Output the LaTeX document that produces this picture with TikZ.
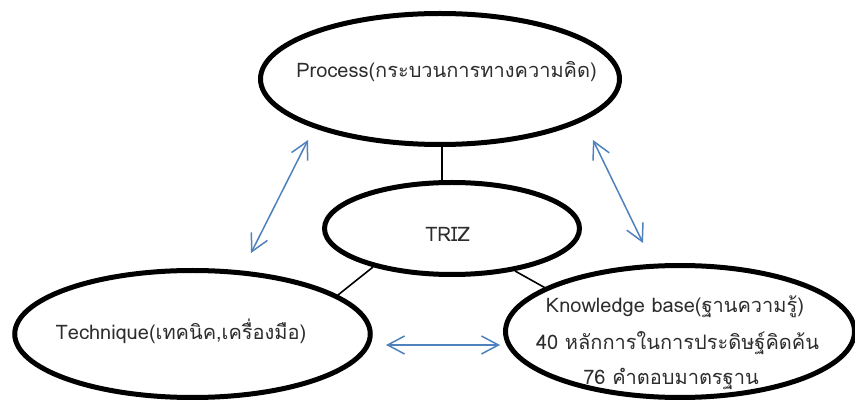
\documentclass[tikz,border=0pt]{standalone}
\usepackage{fontspec}
\setmainfont[Script=Thai]{Loma}
\usetikzlibrary{shapes.geometric,arrows.meta}
\definecolor{arrowblue}{RGB}{79,129,189}
\definecolor{txtgray}{RGB}{45,45,45}
\begin{document}
\begin{tikzpicture}[x=1pt,y=-1pt,
  oval/.style={ellipse,draw=black,line width=5pt,inner sep=0pt,fill=white},
  lbl/.style={text=txtgray,font=\fontsize{20}{24}\selectfont,inner sep=0pt,anchor=base},
  link/.style={draw=black,line width=1.6pt},
  biarrow/.style={draw=arrowblue,line width=1.5pt,
    {Straight Barb[length=17pt,width=18pt]}-{Straight Barb[length=17pt,width=18pt]}}
]
\fill[white] (0,0) rectangle (855,403);
\useasboundingbox (0,0) rectangle (855,403);
% ellipses
\node[oval,minimum width=359pt,minimum height=131pt] (proc) at (440,79) {};
\node[oval,minimum width=255pt,minimum height=92pt] (triz) at (452,228.5) {};
\node[oval,minimum width=355.5pt,minimum height=127pt] (tech) at (192.5,334) {};
\node[oval,minimum width=349pt,minimum height=132pt] (know) at (680,331.5) {};
% connectors
\draw[link] (triz.north) ++(-10,0) coordinate (pt) -- (pt |- proc.south);
\draw[link] (triz.206) -- (tech.15);
\draw[link] (triz.326) -- (know.162.5);
% blue arrows
\coordinate (la1) at (308,140); \coordinate (la2) at (251,253);
\coordinate (ra1) at (593,140); \coordinate (ra2) at (643,243);
\coordinate (ba1) at (386,345); \coordinate (ba2) at (500,345);
\draw[biarrow] (la1) -- (la2);
\draw[biarrow] (ra1) -- (ra2);
\draw[biarrow] (ba1) -- (ba2);
% texts
\node[lbl] (tproc) at (446.5,78) {Process(กระบวนการทางความคิด)};
\node[lbl] (ttriz) at (447.5,242) {TRIZ};
\node[lbl] (ttech) at (181,340) {Technique(เทคนิค,เครื่องมือ)};
\node[lbl] (tk1) at (675,313) {Knowledge base(ฐานความรู้)};
\node[lbl] (tk2) at (677.5,350) {40 หลักการในการประดิษฐ์คิดค้น};
\node[lbl] (tk3) at (671,385) {76 คำตอบมาตรฐาน};
\end{tikzpicture}
\end{document}
